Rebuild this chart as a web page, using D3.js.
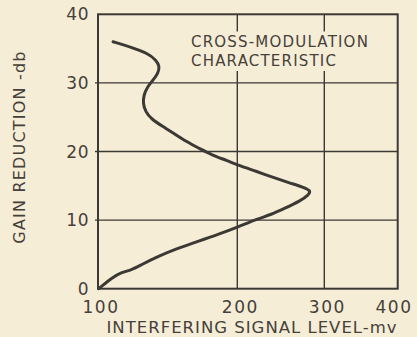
<!DOCTYPE html>
<html>
<head>
<meta charset="utf-8">
<script src="https://cdn.jsdelivr.net/npm/d3@7"></script>
<style>
  html, body { margin: 0; padding: 0; background: #f6edd7; }
  svg { display: block; }
  text { font-family: "DejaVu Sans", sans-serif; fill: #45403a; }
</style>
</head>
<body>
<svg id="chart" width="417" height="337"></svg>
<script>
// Interfering signal level (mv) on the graph-paper x divisions
const xTicks = [100, 200, 300, 400];
// Gain reduction (db)
const yTicks = [0, 10, 20, 30, 40];

// Cross-modulation curve, traced from the top (36 db) down to 0 db
const signalMv = [110.8, 123.9, 135.9, 141.9, 144.3, 143.1, 139.5, 135.4, 132.8, 132.3,
                  134.1, 138.4, 146.9, 154.1, 163.7, 173.2, 181.6, 192.4, 203.1, 222.3,
                  241.4, 260.6, 275.9, 284.6, 282.2, 272.5, 254.3, 238.9, 223.6, 200.8,
                  186.1, 171.8, 157.4, 143.1, 131.1, 123.9, 116.7, 109.5, 103.6, 100.5];
const gainDb   = [36.0, 35.2, 34.3, 33.3, 32.4, 31.4, 30.4, 29.4, 28.2, 27.0,
                  25.8, 24.7, 23.6, 22.7, 21.4, 20.4, 19.5, 18.7, 17.9, 17.1,
                  16.2, 15.4, 14.8, 14.3, 13.7, 12.8, 11.7, 10.8, 10.2, 9.0,
                  7.9, 6.9, 5.9, 4.7, 3.5, 2.7, 2.4, 1.5, 0.5, 0.0];

const titleLines = ["CROSS-MODULATION", "CHARACTERISTIC"];
const xTitle = "INTERFERING SIGNAL LEVEL-mv";
const yTitle = "GAIN REDUCTION -db";

const ink = "#3c3834";
const paper = "#f6edd7";
const plotL = 98, plotR = 397.7, plotT = 14.3, plotB = 288.7;

const svg = d3.select("#chart");

// the paper's x divisions are uneven, so map each printed division to its ruling
const x = d3.scaleLinear().domain(xTicks).range([plotL, 237.3, 324.3, plotR]);
const y = d3.scaleLinear().domain([0, 40]).range([plotB, plotT]);

// grid rulings
const grid = svg.append("g");
grid.selectAll("line.h").data(yTicks.slice(1, -1)).join("line")
  .attr("x1", plotL - 3).attr("x2", plotR)
  .attr("y1", d => y(d)).attr("y2", d => y(d))
  .attr("stroke", ink).attr("stroke-width", 1.4);
grid.selectAll("line.v").data(xTicks.slice(1, -1)).join("line")
  .attr("x1", d => x(d)).attr("x2", d => x(d))
  .attr("y1", plotT).attr("y2", plotB)
  .attr("stroke", ink).attr("stroke-width", 1.4);

// caption, set on a cleared patch of the grid
const cap = svg.append("g");
const capText = cap.append("text")
  .attr("x", 191).attr("y", 46.5)
  .style("font-size", "15px").style("letter-spacing", "1.2px");
capText.selectAll("tspan").data(titleLines).join("tspan")
  .attr("x", 191).attr("dy", (d, i) => i === 0 ? 0 : 19.5)
  .text(d => d);
const bb = capText.node().getBBox();
cap.insert("rect", "text")
  .attr("x", bb.x - 4).attr("y", bb.y - 1)
  .attr("width", bb.width + 8).attr("height", bb.height + 2)
  .attr("fill", paper);

// frame
svg.append("rect")
  .attr("x", plotL).attr("y", plotT)
  .attr("width", plotR - plotL).attr("height", plotB - plotT)
  .attr("fill", "none").attr("stroke", ink).attr("stroke-width", 2);

// y labels
svg.append("g").selectAll("text").data(yTicks).join("text")
  .attr("x", plotL - 9).attr("y", d => y(d))
  .attr("dy", "0.36em").attr("text-anchor", "end")
  .style("font-size", "17px").style("letter-spacing", "0.5px")
  .text(d => d);

// x labels
svg.append("g").selectAll("text").data(xTicks).join("text")
  .attr("x", d => Math.min(x(d) + 3, 394)).attr("y", 313)
  .attr("text-anchor", "middle")
  .style("font-size", "17px").style("letter-spacing", "1.5px")
  .text(d => d);

// axis titles
svg.append("text")
  .attr("x", 252).attr("y", 333).attr("text-anchor", "middle")
  .style("font-size", "16.5px").style("letter-spacing", "1px")
  .text(xTitle);
svg.append("text")
  .attr("transform", "translate(25,147) rotate(-90)")
  .attr("text-anchor", "middle")
  .style("font-size", "16px").style("letter-spacing", "1.2px")
  .text(yTitle);

// curve: a B-spline through the traced points keeps the pen line smooth
const pts = signalMv.map((v, i) => [v, gainDb[i]]);
const line = d3.line().x(d => x(d[0])).y(d => y(d[1])).curve(d3.curveBasis);
svg.append("path")
  .datum(pts)
  .attr("d", line)
  .attr("fill", "none").attr("stroke", ink)
  .attr("stroke-width", 3).attr("stroke-linecap", "round").attr("stroke-linejoin", "round");
</script>
</body>
</html>
